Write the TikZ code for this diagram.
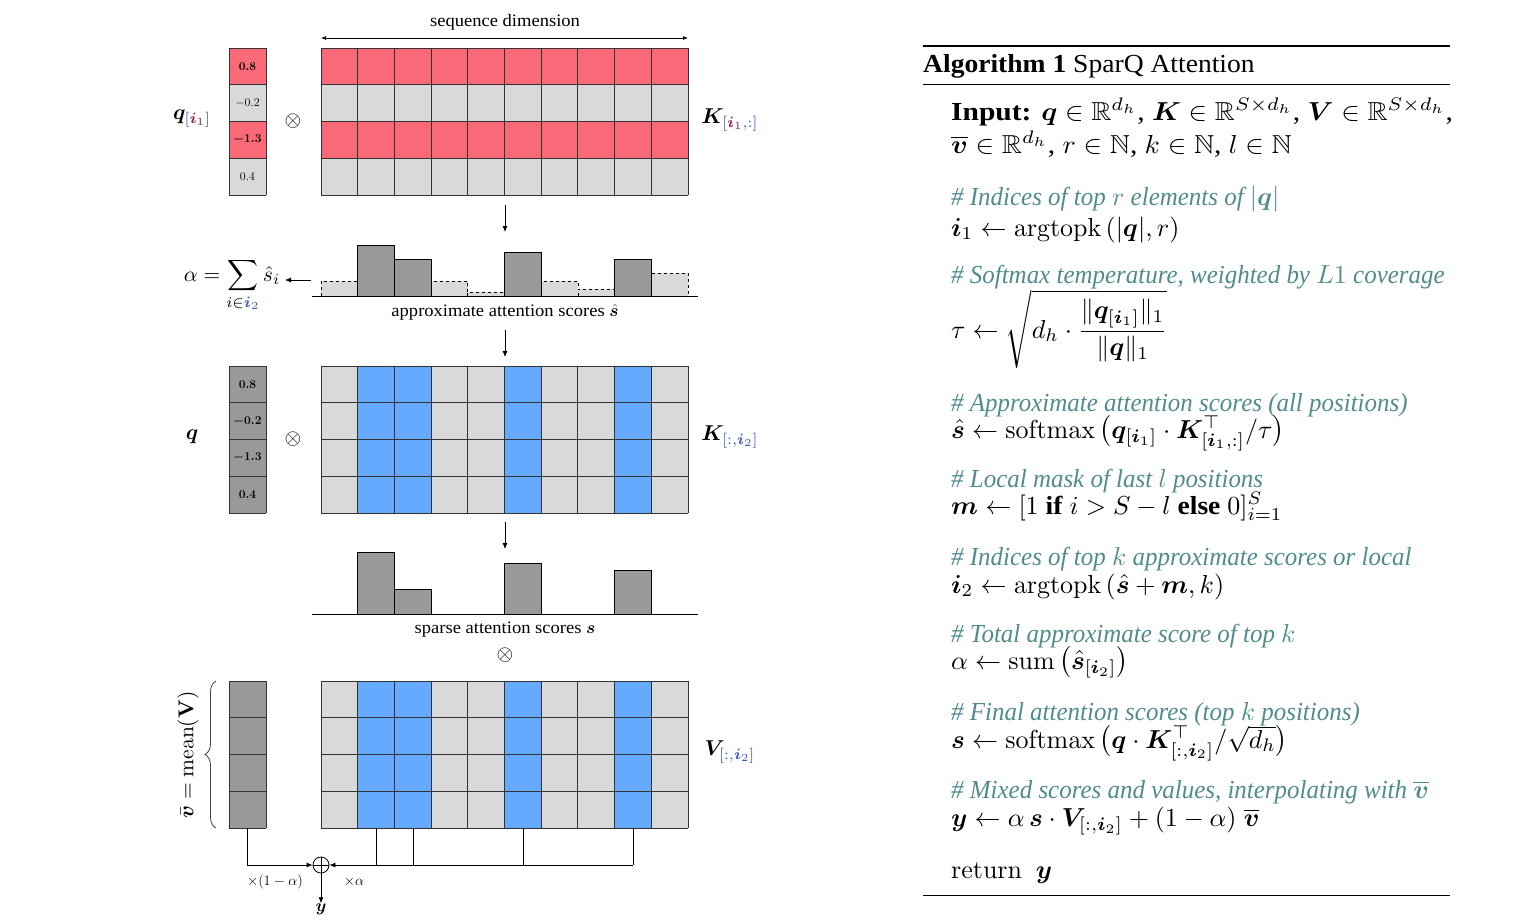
\documentclass[tikz,border=0pt]{standalone}
\usepackage{graphicx}
\usepackage{amsmath,amssymb,bm}
\usepackage[no-math]{fontspec}
\setmainfont{Liberation Serif}[FakeStretch=1.06,ItalicFeatures={FakeStretch=0.96}]
\usetikzlibrary{arrows.meta,decorations.pathreplacing,calc}
\definecolor{cred}{RGB}{250,105,120}
\definecolor{cblue}{RGB}{102,170,255}
\definecolor{clight}{RGB}{217,217,217}
\definecolor{cdark}{RGB}{153,153,153}
\definecolor{idxb}{RGB}{60,90,190}
\definecolor{idxr}{RGB}{150,30,75}
\definecolor{cteal}{RGB}{80,140,140}
\tikzset{
  gridline/.style={draw=black!80,line width=0.9pt},
  arr/.style={-{Latex[length=6pt,width=5pt]},line width=0.8pt},
  lbl/.style={inner sep=0pt,font=\fontsize{17.5}{20}\selectfont},
  mlbl/.style={inner sep=0pt},
  num/.style={inner sep=0pt,font=\fontsize{12.5}{14}\selectfont},
  small/.style={inner sep=0pt,font=\fontsize{14.5}{17}\selectfont},
  algo/.style={anchor=base west,inner sep=0pt},
  dbar/.style={fill=cdark,draw=black,line width=0.8pt},
  lbar/.style={fill=clight,draw=black,dashed,line width=0.7pt},
}
\newcommand\alg[1]{\scalebox{2.6}{\fontsize{10}{12}\selectfont #1}}
\newcommand\algw[1]{\scalebox{2.78}[2.6]{\fontsize{10}{12}\selectfont #1}}
\newcommand\cmtx[1]{\scalebox{2.6}{\fontsize{10}{12}\selectfont\itshape\color{cteal}#1}}
\newcommand\dml[1]{\scalebox{2.15}{\fontsize{10}{12}\selectfont #1}}
\newcommand\qi{\bm{q}_{{\color{idxb}[}{\color{idxr}\bm{i}_1}{\color{idxb}]}}}
\begin{document}
\begin{tikzpicture}[x=1pt,y=-1pt]
\useasboundingbox (0,0) rectangle (1528,922);
% ---------- sequence dimension ----------
\node[lbl] (seqdim) at (505,22) {sequence dimension};
\coordinate (sdl) at (321,38);
\coordinate (sdr) at (688,38);
\draw[{Latex[length=5pt,width=4pt]}-{Latex[length=5pt,width=4pt]},line width=0.7pt] (sdl) -- (sdr);
% ---------- q[i1] vector ----------
\fill[clight] (229,48) rectangle (266,195);
\fill[cred] (229,48) rectangle (266,85);
\fill[cred] (229,122) rectangle (266,158);
\foreach \j in {0,...,4} \draw[gridline] (229,{48+\j*36.75}) -- (266,{48+\j*36.75});
\draw[gridline] (229,48) -- (229,195) (266,48) -- (266,195);
\node[num] (qa1) at (247.5,66.4) {$\bm{0.8}$};
\node[num] (qa2) at (247.5,103.1) {$-0.2$};
\node[num] (qa3) at (247.5,139.9) {$\bm{-1.3}$};
\node[num] (qa4) at (247.5,176.6) {$0.4$};
\node[mlbl] (qilbl) at (192,119) {\dml{$\qi$}};
\node[mlbl] (ot1) at (293,121) {\dml{$\otimes$}};
% ---------- K[i1,:] ----------
\fill[clight] (321,48) rectangle (688,195);
\fill[cred] (321,48) rectangle (688,85);
\fill[cred] (321,122) rectangle (688,158);
\foreach \i in {0,...,10} \draw[gridline] ({321+\i*36.7},48) -- ({321+\i*36.7},195);
\foreach \j in {0,...,4} \draw[gridline] (321,{48+\j*36.75}) -- (688,{48+\j*36.75});
\node[mlbl] (k1lbl) at (730,120) {\dml{$\bm{K}_{{\color{idxb}[}{\color{idxr}\bm{i}_1}{\color{idxb},:]}}$}};
% arrow down
\coordinate (d1a) at (505,205);
\coordinate (d1b) at (505,232);
\draw[arr] (d1a) -- (d1b);
% ---------- approx scores bar chart ----------
\foreach \c/\t in {0/281,3/281,4/292,6/281,7/289,9/273}
  \draw[lbar] ({321+\c*36.7},296) rectangle ({321+(\c+1)*36.7},\t);
\foreach \c/\t in {1/245,2/259,5/252,8/259}
  \draw[dbar] ({321+\c*36.7},296) rectangle ({321+(\c+1)*36.7},\t);
\coordinate (b1l) at (312,296);
\coordinate (b1r) at (698,296);
\draw[line width=0.9pt] (b1l) -- (b1r);
\node[lbl] (apxlbl) at (505,312) {approximate attention scores $\hat{\bm{s}}$};
\node[mlbl] (alpha) at (232,285) {\dml{$\displaystyle\alpha=\sum_{i\in{\color{idxb}\bm{i}_2}}\hat{s}_i$}};
\coordinate (sa) at (311,280);
\coordinate (sb) at (285,280);
\draw[arr] (sa) -- (sb);
\coordinate (d2a) at (505,330);
\coordinate (d2b) at (505,357);
\draw[arr] (d2a) -- (d2b);
% ---------- q vector ----------
\fill[cdark] (229,366) rectangle (266,513);
\foreach \j in {0,...,4} \draw[gridline] (229,{366+\j*36.75}) -- (266,{366+\j*36.75});
\draw[gridline] (229,366) -- (229,513) (266,366) -- (266,513);
\node[num] (qb1) at (247.5,384.4) {$\bm{0.8}$};
\node[num] (qb2) at (247.5,421.1) {$\bm{-0.2}$};
\node[num] (qb3) at (247.5,457.9) {$\bm{-1.3}$};
\node[num] (qb4) at (247.5,494.6) {$\bm{0.4}$};
\node[mlbl] (qlbl) at (192,437) {\dml{$\bm{q}$}};
\node[mlbl] (ot2) at (293,439) {\dml{$\otimes$}};
% ---------- K[:,i2] ----------
\fill[clight] (321,366) rectangle (688,513);
\foreach \c in {1,2,5,8} \fill[cblue] ({321+\c*36.7},366) rectangle ({321+(\c+1)*36.7},513);
\foreach \i in {0,...,10} \draw[gridline] ({321+\i*36.7},366) -- ({321+\i*36.7},513);
\foreach \j in {0,...,4} \draw[gridline] (321,{366+\j*36.75}) -- (688,{366+\j*36.75});
\node[mlbl] (k2lbl) at (730,437) {\dml{$\bm{K}_{\color{idxb}[:,\bm{i}_2]}$}};
\coordinate (d3a) at (505,522);
\coordinate (d3b) at (505,549);
\draw[arr] (d3a) -- (d3b);
% ---------- sparse scores ----------
\foreach \c/\t in {1/552,2/589,5/563,8/570}
  \draw[dbar] ({321+\c*36.7},614) rectangle ({321+(\c+1)*36.7},\t);
\coordinate (b2l) at (312,614);
\coordinate (b2r) at (698,614);
\draw[line width=0.9pt] (b2l) -- (b2r);
\node[lbl] (splbl) at (505,630) {sparse attention scores $\bm{s}$};
\node[mlbl] (ot3) at (505,655) {\dml{$\otimes$}};
% ---------- v bar ----------
\fill[cdark] (229,681) rectangle (266,828);
\foreach \j in {0,...,4} \draw[gridline] (229,{681+\j*36.75}) -- (266,{681+\j*36.75});
\draw[gridline] (229,681) -- (229,828) (266,681) -- (266,828);
\draw[decorate,decoration={brace,amplitude=11pt},line width=0.8pt,draw=black!75] (216,828) -- (216,681);
\node[mlbl,rotate=90] (vbarlbl) at (188,755) {\dml{$\bar{\bm{v}}=\mathrm{mean}(\mathbf{V})$}};
% ---------- V[:,i2] ----------
\fill[clight] (321,681) rectangle (688,828);
\foreach \c in {1,2,5,8} \fill[cblue] ({321+\c*36.7},681) rectangle ({321+(\c+1)*36.7},828);
\foreach \i in {0,...,10} \draw[gridline] ({321+\i*36.7},681) -- ({321+\i*36.7},828);
\foreach \j in {0,...,4} \draw[gridline] (321,{681+\j*36.75}) -- (688,{681+\j*36.75});
\node[mlbl] (vlbl) at (730,752) {\dml{$\bm{V}_{\color{idxb}[:,\bm{i}_2]}$}};
% ---------- combination ----------
\node[circle,draw,line width=0.8pt,minimum size=16pt,inner sep=0pt] (plus) at (321,865) {};
\draw[line width=0.8pt] (plus.north) -- (plus.south) (plus.west) -- (plus.east);
\coordinate (vbo) at (247.5,828);
\draw[arr] (vbo) |- (plus.west);
\coordinate (c1) at (376,828);
\coordinate (c2) at (413,828);
\coordinate (c5) at (523,828);
\coordinate (c8) at (633,828);
\coordinate (c8b) at (633,865);
\draw[line width=0.8pt] (c1) -- (376,865) (c2) -- (413,865) (c5) -- (523,865) (c8) -- (c8b);
\draw[arr] (c8b) -- (plus.east);
\node[small] (oneminus) at (275,882) {$\times(1-\alpha)$};
\node[small] (timesa) at (354,882) {$\times\alpha$};
\node[inner sep=0pt,font=\fontsize{17}{20}\selectfont] (yout) at (321,909) {$\bm{y}$};
\draw[arr] (plus.south) -- (yout.north);
% ---------- Algorithm ----------
\draw[line width=2pt] (923,46) -- (1450,46);
\draw[line width=1pt] (923,84) -- (1450,84);
\draw[line width=1pt] (923,895) -- (1450,895);
\node[algo] (title) at (923,72) {\alg{\textbf{Algorithm 1} SparQ Attention}};
\node[algo] (in1) at (951,120) {\algw{\textbf{Input:} $\bm{q}\in\mathbb{R}^{d_h}$, $\bm{K}\in\mathbb{R}^{S\times d_h}$, $\bm{V}\in\mathbb{R}^{S\times d_h}$,}};
\node[algo] (in2) at (951,153) {\algw{$\overline{\bm{v}}\in\mathbb{R}^{d_h}$, $r\in\mathbb{N}$, $k\in\mathbb{N}$, $l\in\mathbb{N}$}};
\node[algo] (cm1) at (951,205) {\cmtx{\# Indices of top $r$ elements of $|\bm{q}|$}};
\node[algo] (l1) at (951,236) {\alg{$\bm{i}_1\leftarrow\operatorname{argtopk}\,(|\bm{q}|,r)$}};
\node[algo] (cm2) at (951,283) {\cmtx{\# Softmax temperature, weighted by $L1$ coverage}};
\node[algo] (l2) at (951,338) {\alg{$\tau\leftarrow\sqrt{d_h\cdot\dfrac{\|\bm{q}_{[\bm{i}_1]}\|_1}{\|\bm{q}\|_1}}$}};
\node[algo] (cm3) at (951,411) {\cmtx{\# Approximate attention scores (all positions)}};
\node[algo] (l3) at (951,438) {\alg{$\hat{\bm{s}}\leftarrow\operatorname{softmax}\,\bigl(\bm{q}_{[\bm{i}_1]}\cdot\bm{K}^{\top}_{[\bm{i}_1,:]}/\tau\bigr)$}};
\node[algo] (cm4) at (951,487) {\cmtx{\# Local mask of last $l$ positions}};
\node[algo] (l4) at (951,514) {\alg{$\bm{m}\leftarrow[1\text{ \textbf{if} }i>S-l\text{ \textbf{else} }0]_{i=1}^{S}$}};
\node[algo] (cm5) at (951,565) {\cmtx{\# Indices of top $k$ approximate scores or local}};
\node[algo] (l5) at (951,593) {\alg{$\bm{i}_2\leftarrow\operatorname{argtopk}\,(\hat{\bm{s}}+\bm{m},k)$}};
\node[algo] (cm6) at (951,642) {\cmtx{\# Total approximate score of top $k$}};
\node[algo] (l6) at (951,669) {\alg{$\alpha\leftarrow\operatorname{sum}\,\bigl(\hat{\bm{s}}_{[\bm{i}_2]}\bigr)$}};
\node[algo] (cm7) at (951,720) {\cmtx{\# Final attention scores (top $k$ positions)}};
\node[algo] (l7) at (951,748) {\alg{$\bm{s}\leftarrow\operatorname{softmax}\,\bigl(\bm{q}\cdot\bm{K}^{\top}_{[:,\bm{i}_2]}/\sqrt{d_h}\bigr)$}};
\node[algo] (cm8) at (951,798) {\cmtx{\# Mixed scores and values, interpolating with $\overline{\bm{v}}$}};
\node[algo] (l8) at (951,826) {\alg{$\bm{y}\leftarrow\alpha\,\bm{s}\cdot\bm{V}_{[:,\bm{i}_2]}+(1-\alpha)\;\overline{\bm{v}}$}};
\node[algo] (l9) at (951,878) {\alg{$\mathrm{return}\ \ \bm{y}$}};
\end{tikzpicture}
\end{document}
